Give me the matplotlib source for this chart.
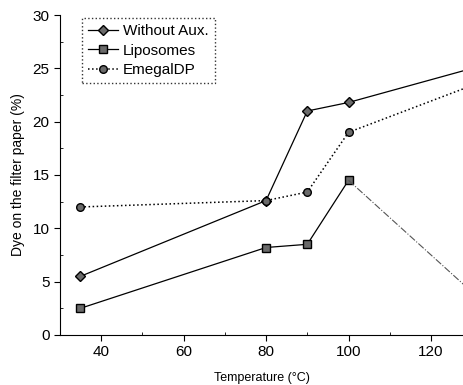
import matplotlib.pyplot as plt
from matplotlib.ticker import MultipleLocator

plt.rcParams["font.family"] = ["Liberation Sans", "DejaVu Sans"]

# 数据
temperature = [35, 80, 90, 100, 130]
without_aux = [5.5, 12.6, 21.0, 21.8, 25.0]
liposomes = [2.5, 8.2, 8.5, 14.5, 4.0]
emegaldp = [12.0, 12.6, 13.4, 19.0, 23.4]

fig = plt.figure(figsize=(4.64, 3.85), dpi=100)
ax = fig.add_axes([0.129, 0.13, 0.871, 0.831])

mk = dict(markersize=5.5, markerfacecolor="#6a6a6a", markeredgecolor="black", markeredgewidth=1.0)

ax.plot(temperature, without_aux, "-", color="black", lw=0.9, marker="D", label="Without Aux.", **dict(mk, markersize=5))
ax.plot(temperature[:4], liposomes[:4], "-", color="black", lw=0.9, marker="s", label="Liposomes", **mk)
ax.plot(temperature[3:], liposomes[3:], "-.", color="#555555", lw=0.8)
ax.plot(temperature, emegaldp, ":", color="black", lw=1.1, marker="o", label="EmegalDP", **mk)

ax.set_xlim(30, 128)
ax.set_ylim(0, 30)
ax.xaxis.set_major_locator(MultipleLocator(20))
ax.xaxis.set_minor_locator(MultipleLocator(10))
ax.yaxis.set_major_locator(MultipleLocator(5))
ax.yaxis.set_minor_locator(MultipleLocator(2.5))
ax.tick_params(which="major", direction="out", length=4, labelsize=11)
ax.tick_params(which="minor", direction="in", length=2.5)
ax.spines["top"].set_visible(False)
ax.spines["right"].set_visible(False)

ax.set_xlabel("Temperature (°C)", fontsize=9, labelpad=9)
ax.set_ylabel("Dye on the filter paper (%)", fontsize=10, labelpad=5)

leg = ax.legend(loc="upper left", bbox_to_anchor=(0.054, 0.99), fontsize=11, frameon=True,
                fancybox=False, edgecolor="black", handlelength=2.0, borderpad=0.4,
                labelspacing=0.35, handletextpad=0.3, borderaxespad=0.0)
leg.get_frame().set_linestyle(":")
leg.get_frame().set_linewidth(1.0)

fig.savefig("out.png", dpi=100)
